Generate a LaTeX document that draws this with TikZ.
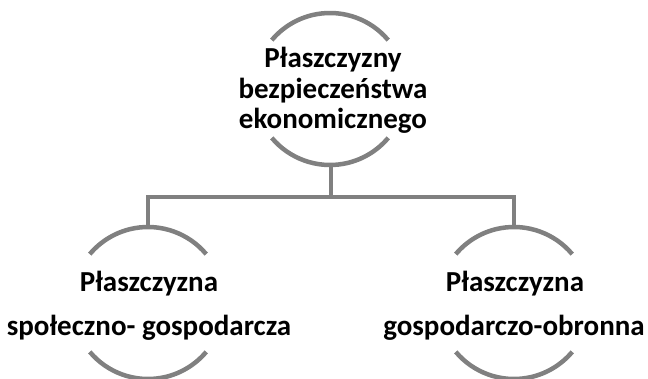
\documentclass[tikz,border=0pt]{standalone}
\usepackage{fontspec}
\setmainfont{Carlito}
\begin{document}
\begin{tikzpicture}[x=1pt,y=-1pt,
  ring/.style={circle,minimum size=152pt,inner sep=0pt,outer sep=0pt},
  ln/.style={draw=linegray,line width=4.5pt},
  lbl/.style={font=\fontsize{29}{31}\selectfont\bfseries,inner sep=0pt,anchor=base,text=black}]
\definecolor{linegray}{RGB}{128,128,128}
\useasboundingbox (0,0) rectangle (648,379);

% circle frames (only their upper and lower arcs are drawn)
\node[ring] (top) at (330,89) {};
\node[ring] (left) at (148,303) {};
\node[ring] (right) at (514,303) {};
\foreach \c in {top,left,right}{
  \draw[ln] (\c.40) arc[start angle=40,end angle=140,radius=76pt];
  \draw[ln] (\c.220) arc[start angle=220,end angle=320,radius=76pt];
}

% tree connectors
\coordinate (j) at (331,197);
\draw[ln] (top.south -| j) -- (j);
\draw[ln] (left.north) -- (left.north |- j) -- (right.north |- j) -- (right.north);

% labels
\node[lbl] (t1) at (333,68) {Płaszczyzny};
\node[lbl] (t2) at (333,98.5) {bezpieczeństwa};
\node[lbl] (t3) at (333,129) {ekonomicznego};

\node[lbl] (l1) at (149,292) {Płaszczyzna};
\node[lbl] (l2) at (149,335) {społeczno- gospodarcza};

\node[lbl] (r1) at (515,292) {Płaszczyzna};
\node[lbl] (r2) at (514,335) {gospodarczo-obronna};
\end{tikzpicture}
\end{document}
